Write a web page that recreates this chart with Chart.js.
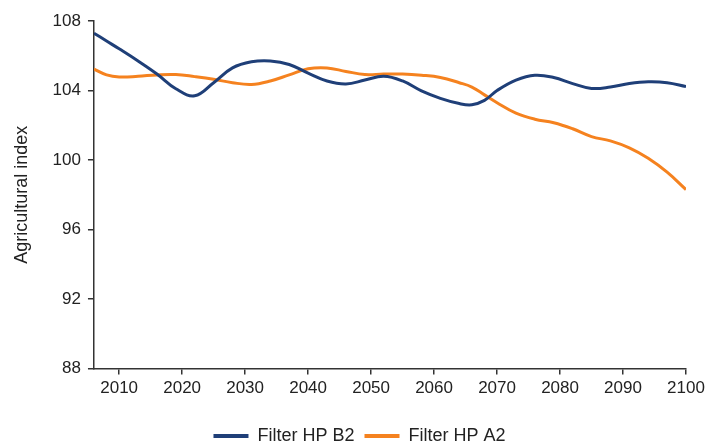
<!DOCTYPE html>
<html lang="en">
<head>
    <meta charset="UTF-8">
    <title>Agricultural index</title>
    <script src="https://cdn.jsdelivr.net/npm/chart.js"></script>
    <style>
        html, body { margin: 0; padding: 0; background: #fff; }
        .chart-box { width: 707px; height: 445px; position: relative; }
    </style>
</head>
<body>
<div class="chart-box">
    <canvas id="agriChart"></canvas>
</div>

<script>
    // years and values
    const years = [2006, 2008, 2010, 2013, 2016, 2019, 2022, 2025, 2028, 2031, 2034, 2037, 2040, 2043, 2046, 2049, 2052,
        2055, 2058, 2061, 2064, 2066, 2068, 2070, 2073, 2076, 2079, 2082, 2085, 2088, 2091, 2094, 2097, 2100];
    const hpB2 = [107.3, 106.85, 106.4, 105.7, 104.95, 104.1, 103.7, 104.45, 105.3, 105.65, 105.7, 105.5, 105.0, 104.55, 104.38, 104.6, 104.82,
        104.55, 103.98, 103.55, 103.25, 103.18, 103.43, 104.0, 104.6, 104.88, 104.75, 104.4, 104.12, 104.2, 104.4, 104.5, 104.45, 104.23];
    const hpA2 = [105.23, 104.9, 104.78, 104.82, 104.9, 104.92, 104.8, 104.65, 104.45, 104.35, 104.55, 104.9, 105.25, 105.3, 105.1, 104.92, 104.95,
        104.95, 104.88, 104.75, 104.45, 104.2, 103.75, 103.3, 102.7, 102.35, 102.15, 101.8, 101.35, 101.1, 100.7, 100.1, 99.3, 98.3];
    const xTicks = [2010, 2020, 2030, 2040, 2050, 2060, 2070, 2080, 2090, 2100];
    const yTicks = [88, 92, 96, 100, 104, 108];

    const navy = '#1f3f78';
    const orange = '#f5821f';
    const axisColor = '#333';
    const fontFamily = "'Liberation Sans', Arial, sans-serif";

    function points(vals) {
        return years.map((y, i) => ({ x: y, y: vals[i] }));
    }

    // nudge the legend a bit right of the page centre, like the original
    const legendShift = {
        id: 'legendShift',
        afterUpdate(chart) {
            chart.legend.left += 11;
            chart.legend.right += 11;
        }
    };

    const ctx = document.getElementById('agriChart').getContext('2d');
    const agriChart = new Chart(ctx, {
        type: 'line',
        data: {
            datasets: [
                { label: 'Filter HP B2', data: points(hpB2), borderColor: navy, backgroundColor: navy, borderWidth: 3, pointRadius: 0, tension: 0.4 },
                { label: 'Filter HP A2', data: points(hpA2), borderColor: orange, backgroundColor: orange, borderWidth: 3, pointRadius: 0, tension: 0.4 }
            ]
        },
        plugins: [legendShift],
        options: {
            responsive: true,
            maintainAspectRatio: false,
            animation: false,
            layout: { padding: { top: 21, right: 21, left: 11, bottom: -10 } },
            plugins: {
                tooltip: { enabled: false },
                legend: {
                    position: 'bottom',
                    labels: {
                        color: '#222',
                        font: { family: fontFamily, size: 18 },
                        boxWidth: 35,
                        boxHeight: 4,
                        padding: 10,
                        generateLabels: (chart) => Chart.defaults.plugins.legend.labels.generateLabels(chart)
                            .map(l => Object.assign(l, { lineWidth: 0 }))
                    }
                }
            },
            scales: {
                x: {
                    type: 'linear',
                    min: 2006,
                    max: 2100,
                    afterBuildTicks: (scale) => { scale.ticks = xTicks.map(v => ({ value: v })); },
                    afterFit: (scale) => { scale.height += 14; scale.paddingRight = 0; },
                    grid: { drawOnChartArea: false, tickLength: 6, tickColor: axisColor, lineWidth: 1.5 },
                    border: { color: axisColor, width: 1.5 },
                    ticks: { color: '#222', font: { family: fontFamily, size: 17 }, padding: 4, maxRotation: 0, callback: v => String(v) }
                },
                y: {
                    min: 88,
                    max: 108,
                    afterBuildTicks: (scale) => { scale.ticks = yTicks.map(v => ({ value: v })); },
                    grid: { drawOnChartArea: false, tickLength: 6, tickColor: axisColor, lineWidth: 1.5 },
                    border: { color: axisColor, width: 1.5 },
                    ticks: { color: '#222', font: { family: fontFamily, size: 17 }, padding: 7 },
                    title: { display: true, text: 'Agricultural index', color: '#222', font: { family: fontFamily, size: 18 }, padding: { top: 0, bottom: 13 } }
                }
            }
        }
    });
</script>
</body>
</html>
